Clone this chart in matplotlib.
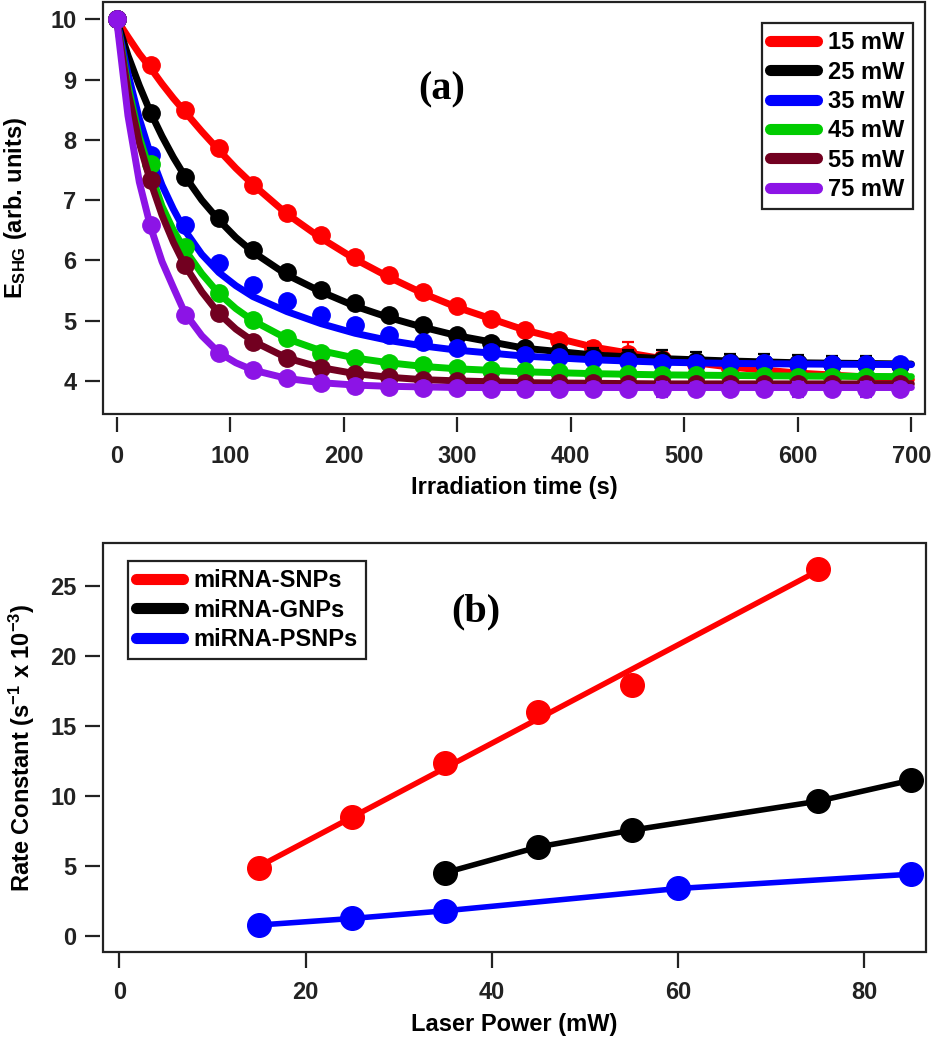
import matplotlib
matplotlib.use("Agg")
import matplotlib.pyplot as plt
from matplotlib.lines import Line2D
from matplotlib.patches import Rectangle

plt.rcParams["font.family"] = ["Liberation Sans", "DejaVu Sans"]
plt.rcParams["font.weight"] = "bold"
plt.rcParams["axes.labelweight"] = "bold"
plt.rcParams["mathtext.default"] = "regular"

# ---- panel (a): SHG decay at different laser powers ----
powers_a = ["15 mW", "25 mW", "35 mW", "45 mW", "55 mW", "75 mW"]
colors_a = ["#ff0000", "#000000", "#0000ff", "#00cc00", "#720020", "#8c14e6"]

t_pts = [0, 30, 60, 90, 120, 150, 180, 210, 240, 270, 300, 330,
         360, 390, 420, 450, 480, 510, 540, 570, 600, 630, 660, 690]

e_15 = [10.0, 9.24, 8.50, 7.86, 7.25, 6.79, 6.42, 6.06, 5.75, 5.47, 5.24, 5.03,
        4.85, 4.68, 4.55, 4.45, 4.36, 4.28, 4.22, 4.17, 4.12, 4.08, 4.05, 4.02]
e_25 = [10.0, 8.44, 7.39, 6.70, 6.17, 5.81, 5.51, 5.29, 5.10, 4.93, 4.76, 4.63,
        4.55, 4.48, 4.42, 4.38, 4.35, 4.33, 4.31, 4.30, 4.29, 4.28, 4.28, 4.27]
e_35 = [10.0, 7.75, 6.59, 5.95, 5.59, 5.32, 5.10, 4.93, 4.76, 4.65, 4.55, 4.48,
        4.43, 4.40, 4.37, 4.33, 4.30, 4.30, 4.29, 4.29, 4.28, 4.28, 4.28, 4.28]
e_45 = [10.0, 7.60, 6.23, 5.46, 5.01, 4.71, 4.47, 4.38, 4.30, 4.26, 4.21, 4.18,
        4.16, 4.14, 4.12, 4.11, 4.10, 4.09, 4.08, 4.08, 4.07, 4.07, 4.06, 4.06]
e_55 = [10.0, 7.34, 5.92, 5.12, 4.65, 4.38, 4.22, 4.12, 4.06, 4.02, 4.00, 3.98,
        3.97, 3.96, 3.96, 3.95, 3.95, 3.95, 3.95, 3.95, 3.95, 3.95, 3.95, 3.95]
e_75 = [10.0, 6.59, 5.10, 4.46, 4.18, 4.05, 3.96, 3.92, 3.90, 3.89, 3.88, 3.87,
        3.87, 3.87, 3.86, 3.86, 3.86, 3.86, 3.86, 3.86, 3.86, 3.86, 3.86, 3.86]

err_15 = [0.03, 0.05, 0.06, 0.05, 0.05, 0.05, 0.05, 0.05, 0.05, 0.05, 0.05, 0.05,
          0.08, 0.08, 0.10, 0.20, 0.10, 0.08, 0.08, 0.08, 0.08, 0.08, 0.08, 0.08]
err_25 = [0.03, 0.05, 0.05, 0.05, 0.05, 0.05, 0.05, 0.05, 0.05, 0.05, 0.05, 0.06,
          0.08, 0.10, 0.12, 0.14, 0.16, 0.15, 0.14, 0.15, 0.14, 0.13, 0.13, 0.08]
err_35 = [0.03, 0.05, 0.05, 0.05, 0.05, 0.05, 0.05, 0.05, 0.05, 0.05, 0.05, 0.06,
          0.06, 0.07, 0.08, 0.08, 0.08, 0.09, 0.09, 0.09, 0.09, 0.09, 0.09, 0.09]
err_45 = [0.03, 0.04, 0.04, 0.04, 0.04, 0.04, 0.04, 0.05, 0.05, 0.05, 0.05, 0.05,
          0.05, 0.05, 0.05, 0.05, 0.05, 0.05, 0.05, 0.05, 0.05, 0.05, 0.05, 0.05]
err_55 = [0.03, 0.04, 0.04, 0.04, 0.04, 0.04, 0.04, 0.04, 0.04, 0.04, 0.04, 0.04,
          0.04, 0.04, 0.04, 0.04, 0.04, 0.04, 0.04, 0.04, 0.04, 0.04, 0.04, 0.04]
err_75 = [0.03, 0.04, 0.04, 0.04, 0.04, 0.05, 0.05, 0.06, 0.06, 0.07, 0.08, 0.08,
          0.08, 0.10, 0.10, 0.08, 0.12, 0.10, 0.10, 0.10, 0.12, 0.10, 0.12, 0.10]

# fitted exponential curves
t_fit = [0, 10, 20, 30, 40, 50, 60, 75, 90, 105, 120, 150, 180, 210, 240,
         270, 300, 360, 420, 480, 540, 600, 700]
fit_15 = [10.0, 9.71, 9.43, 9.19, 8.93, 8.69, 8.47, 8.14, 7.83, 7.53, 7.26, 6.77,
          6.37, 6.02, 5.72, 5.45, 5.22, 4.84, 4.56, 4.37, 4.23, 4.13, 4.02]
fit_25 = [10.0, 9.40, 8.90, 8.45, 8.06, 7.71, 7.40, 7.00, 6.67, 6.38, 6.14, 5.76,
          5.48, 5.24, 5.05, 4.89, 4.75, 4.54, 4.43, 4.37, 4.33, 4.30, 4.28]
fit_35 = [10.0, 9.10, 8.35, 7.75, 7.25, 6.85, 6.50, 6.10, 5.80, 5.58, 5.40, 5.15,
          4.95, 4.79, 4.67, 4.58, 4.51, 4.41, 4.35, 4.31, 4.29, 4.28, 4.27]
fit_45 = [10.0, 8.90, 8.05, 7.45, 6.90, 6.50, 6.18, 5.78, 5.45, 5.20, 5.00, 4.70,
          4.50, 4.38, 4.30, 4.24, 4.20, 4.15, 4.12, 4.10, 4.09, 4.08, 4.07]
fit_55 = [10.0, 8.80, 7.95, 7.30, 6.75, 6.30, 5.92, 5.48, 5.12, 4.86, 4.66, 4.38,
          4.22, 4.12, 4.06, 4.02, 4.00, 3.97, 3.96, 3.95, 3.95, 3.95, 3.95]
fit_75 = [10.0, 8.40, 7.30, 6.55, 5.98, 5.55, 5.13, 4.75, 4.47, 4.30, 4.18, 4.04,
          3.97, 3.93, 3.91, 3.90, 3.89, 3.89, 3.89, 3.89, 3.89, 3.89, 3.89]

points_a = [e_15, e_25, e_35, e_45, e_55, e_75]
errors_a = [err_15, err_25, err_35, err_45, err_55, err_75]
fits_a = [fit_15, fit_25, fit_35, fit_45, fit_55, fit_75]

# ---- panel (b): rate constant vs laser power ----
names_b = ["miRNA-SNPs", "miRNA-GNPs", "miRNA-PSNPs"]
colors_b = ["#ff0000", "#000000", "#0000ff"]
p_snp = [15, 25, 35, 45, 55, 75]
k_snp = [4.85, 8.55, 12.35, 16.0, 17.97, 26.25]
p_gnp = [35, 45, 55, 75, 85]
k_gnp = [4.55, 6.39, 7.58, 9.65, 11.15]
k_gnp_err = [0.2, 0.3, 0.6, 0.3, 0.3]
p_psnp = [15, 25, 35, 60, 85]
k_psnp = [0.81, 1.28, 1.83, 3.42, 4.44]
# linear fit line for SNPs
snp_fit_p = [15, 75]
snp_fit_k = [5.0, 26.1]


def igor_box(ax, off_left, off_bottom):
    for s in ax.spines.values():
        s.set_color("none")
    ax.spines["left"].set_position(("outward", off_left))
    ax.spines["bottom"].set_position(("outward", off_bottom))
    ax.add_patch(Rectangle((0, 0), 1, 1, transform=ax.transAxes, fill=False,
                           lw=1.6, ec="#222222", clip_on=False, zorder=20))
    ax.tick_params(direction="out", length=11, width=1.6, labelsize=17,
                   top=False, right=False, colors="#222222")
    ax.tick_params(axis="y", pad=6)
    ax.tick_params(axis="x", pad=9)


fig = plt.figure(figsize=(9.32, 10.5), dpi=100)
ax1 = fig.add_axes([0.1105, 0.6057, 0.882, 0.3925])
ax2 = fig.add_axes([0.1105, 0.0930, 0.883, 0.3900])

for i in range(len(powers_a)):
    z = 3 + i
    ax1.plot(t_fit, fits_a[i], color=colors_a[i], lw=5, zorder=z,
             solid_capstyle="round", solid_joinstyle="round")
    ax1.errorbar(t_pts, points_a[i], yerr=errors_a[i], fmt="o",
                 color=colors_a[i], ms=12.5, capsize=4, elinewidth=1.6,
                 capthick=1.6, zorder=z)

ax1.set_xlim(-12, 712)
ax1.set_ylim(3.45, 10.29)
ax1.set_xticks([0, 100, 200, 300, 400, 500, 600, 700])
ax1.set_yticks([4, 5, 6, 7, 8, 9, 10])
igor_box(ax1, 2.2, 2.2)
ax1.set_xlabel("Irradiation time (s)", fontsize=17, labelpad=6)
ax1.set_ylabel("E$_{SHG}$ (arb. units)", fontsize=17)
ax1.yaxis.set_label_coords(-0.090, 0.5)
ax1.text(0.412, 0.786, "(a)", transform=ax1.transAxes, ha="center",
         va="center", fontsize=29, fontweight="bold",
         family=["Liberation Serif", "DejaVu Serif"])

handles_a = [Line2D([], [], color=c, lw=8, solid_capstyle="round")
             for c in colors_a]
leg1 = ax1.legend(handles_a, powers_a, loc="upper right",
                  bbox_to_anchor=(0.985, 0.949), fontsize=17, frameon=True,
                  fancybox=False, edgecolor="#222222", framealpha=1,
                  handlelength=2.0, handletextpad=0.45, labelspacing=0.27,
                  borderpad=0.35, borderaxespad=0)
leg1.get_frame().set_linewidth(1.6)
leg1.set_zorder(30)

ax2.plot(snp_fit_p, snp_fit_k, color=colors_b[0], lw=4, zorder=3)
ax2.plot(p_snp, k_snp, "o", color=colors_b[0], ms=17, zorder=4)
ax2.errorbar(p_gnp, k_gnp, yerr=k_gnp_err, fmt="-o", color=colors_b[1],
             lw=4, ms=17, capsize=4, elinewidth=1.6, zorder=4)
ax2.plot(p_psnp, k_psnp, "-o", color=colors_b[2], lw=4, ms=17, zorder=4)

ax2.set_xlim(-1.76, 86.6)
ax2.set_ylim(-1.14, 28.1)
ax2.set_xticks([0, 20, 40, 60, 80])
ax2.set_yticks([0, 5, 10, 15, 20, 25])
igor_box(ax2, 2.2, 0.8)
ax2.set_xlabel("Laser Power (mW)", fontsize=17, labelpad=6)
ax2.set_ylabel("Rate Constant (s$^{-1}$ x 10$^{-3}$)", fontsize=17)
ax2.yaxis.set_label_coords(-0.080, 0.5)
ax2.text(0.453, 0.832, "(b)", transform=ax2.transAxes, ha="center",
         va="center", fontsize=29, fontweight="bold",
         family=["Liberation Serif", "DejaVu Serif"])

handles_b = [Line2D([], [], color=c, lw=8, solid_capstyle="round")
             for c in colors_b]
leg2 = ax2.legend(handles_b, names_b, loc="upper left",
                  bbox_to_anchor=(0.030, 0.956), fontsize=17, frameon=True,
                  fancybox=False, edgecolor="#222222", framealpha=1,
                  handlelength=2.0, handletextpad=0.45, labelspacing=0.27,
                  borderpad=0.35, borderaxespad=0)
leg2.get_frame().set_linewidth(1.6)

fig.savefig("out.png", dpi=100)
